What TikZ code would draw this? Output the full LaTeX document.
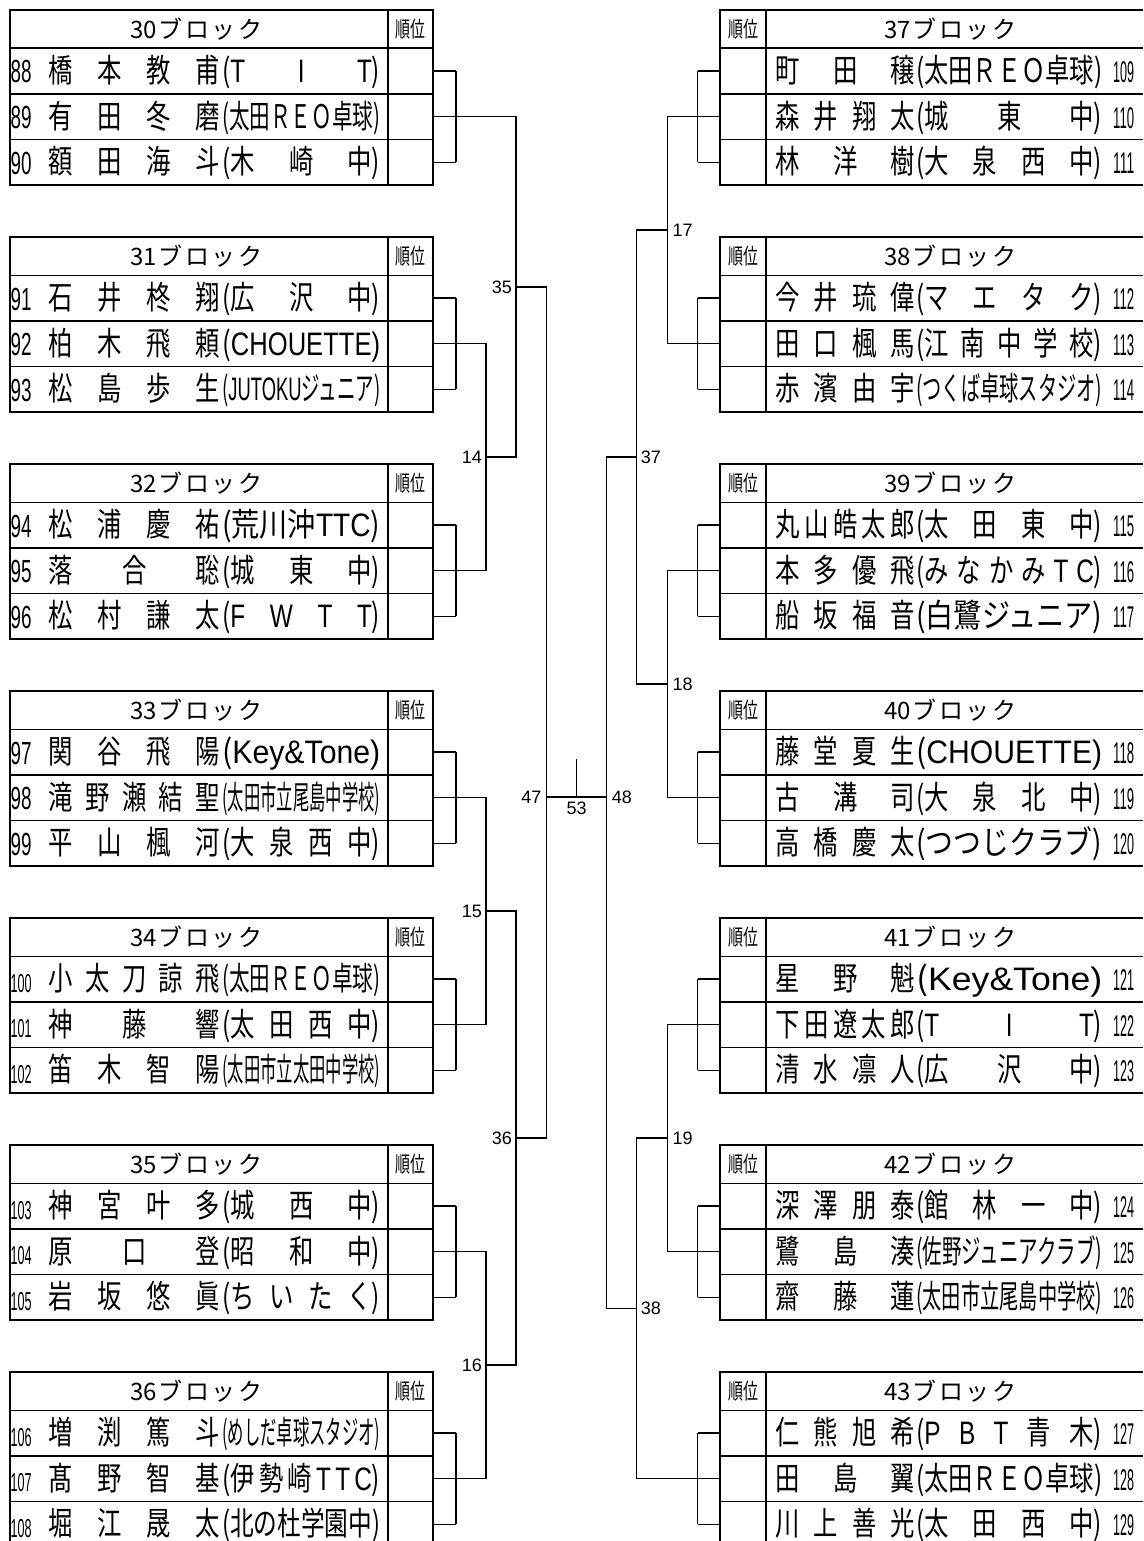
\documentclass[tikz,border=0pt]{standalone}
\usepackage{fontspec}
\usepackage{graphicx}
\setmainfont{Noto Sans CJK JP}
\newfontfamily\lat{Liberation Sans}
\makeatletter
\newcommand\cx{0.75}
\newcommand\cc[1]{\scalebox{\cx}[1]{#1}}
\def\spr@endmark{\spr@end}
\newcommand\spreadlist[1]{\spr@first#1\spr@end}
\def\spr@first#1{\cc{#1}\spr@next}
\def\spr@next#1{\def\spr@tmp{#1}\ifx\spr@tmp\spr@endmark\else\hfill\cc{#1}\expandafter\spr@next\fi}
\makeatother
\def\namew{172pt}\def\clubw{158pt}
\newcommand\nm[1]{\makebox[\namew][s]{\spreadlist{#1}}}
\newcommand\cS[1]{\makebox[\clubw][s]{\cc{(}\spreadlist{#1}\cc{)}}}
\newcommand\cQ[1]{\resizebox{\clubw}{\height}{(#1)}}
\tikzset{
 tbl/.style={line width=1.6pt},
 ln/.style={line width=1.5pt},
 txt/.style={inner sep=0pt, font=\fontsize{32.5}{32.5}\selectfont},
 hdr/.style={inner sep=0pt, font=\fontsize{24}{24}\selectfont},
 rk/.style={inner sep=0pt, font=\fontsize{22}{22}\selectfont},
 lbl/.style={inner sep=0pt, font=\lat\fontsize{18}{18}\selectfont},
}
\newcommand\lblock[2]{%
  \draw[tbl] (10,#1) rectangle (433,#1+175);
  \draw[tbl] (388,#1) -- (388,#1+175)
     (10,#1+38.3) -- (433,#1+38.3)
     (10,#1+84) -- (433,#1+84)
     (10,#1+129.5) -- (433,#1+129.5);
  \node[hdr] (h#2) at (196,#1+19.2) {\makebox[132pt][s]{#2\hfill ブ\hfill ロ\hfill ッ\hfill ク}};
  \node[rk] (r#2) at (410.5,#1+19.5) {\scalebox{0.68}[1]{順位}};
  \foreach \i in {0,1,2}{
    \coordinate (s#2-\i) at (433,#1+61+45.65*\i);
    \coordinate (t#2-\i) at (456,#1+61+45.65*\i);
    \draw[ln] (s#2-\i) -- (t#2-\i);
  }
  \draw[ln] (t#2-0) -- (t#2-2);
}
\newcommand\rblock[2]{%
  \draw[tbl] (1143,#1) -- (720,#1) -- (720,#1+175) -- (1143,#1+175);
  \draw[tbl] (766,#1) -- (766,#1+175)
     (720,#1+38.3) -- (1143,#1+38.3)
     (720,#1+84) -- (1143,#1+84)
     (720,#1+129.5) -- (1143,#1+129.5);
  \node[hdr] (h#2) at (950,#1+19.2) {\makebox[132pt][s]{#2\hfill ブ\hfill ロ\hfill ッ\hfill ク}};
  \node[rk] (r#2) at (743,#1+19.5) {\scalebox{0.68}[1]{順位}};
  \foreach \i in {0,1,2}{
    \coordinate (s#2-\i) at (720,#1+61+45.65*\i);
    \coordinate (t#2-\i) at (697.5,#1+61+45.65*\i);
    \draw[ln] (s#2-\i) -- (t#2-\i);
  }
  \draw[ln] (t#2-0) -- (t#2-2);
}
\newcommand\lrow[5]{%
  \pgfmathsetmacro\myrc{#1+61+45.65*#2}
  \ifnum#3>99\relax
    \node[anchor=base west,inner sep=0pt] (n#3) at (10.5,\myrc+13) {\resizebox{21pt}{\height}{\lat\fontsize{26}{26}\selectfont #3}};
  \else
    \node[anchor=base west,inner sep=0pt] (n#3) at (10.5,\myrc+12) {\resizebox{21pt}{\height}{\lat\fontsize{32}{32}\selectfont #3}};
  \fi
  \node[txt,anchor=base west] (nm#3) at (48,\myrc+11.5) {\nm{#4}};
  \node[txt,anchor=base west] (cl#3) at (222,\myrc+11.5) {#5};
}
\newcommand\rrow[5]{%
  \pgfmathsetmacro\myrc{#1+61+45.65*#2}
  \node[txt,anchor=base west] (nm#3) at (775,\myrc+11.5) {\nm{#4}};
  \node[txt,anchor=base west] (cl#3) at (916,\myrc+11.5) {#5};
  \node[anchor=base west,inner sep=0pt] (n#3) at (1113,\myrc+11.5) {\resizebox{21pt}{\height}{\lat\fontsize{30}{30}\selectfont #3}};
}
\begin{document}
\begin{tikzpicture}[x=1pt,y=-1pt]
\clip (0,0) rectangle (1143,1541);
\fill[white] (0,0) rectangle (1143,1541);
% ---------- left side ----------
\def\namew{172pt}\def\clubw{158pt}
\lblock{10}{30}
\lrow{10}{0}{88}{橋本教甫}{\cS{{\lat T}{\lat I}{\lat T}}}
\lrow{10}{1}{89}{有田冬磨}{\cQ{太田ＲＥＯ卓球}}
\lrow{10}{2}{90}{額田海斗}{\cS{木崎中}}
\lblock{237}{31}
\lrow{237}{0}{91}{石井柊翔}{\cS{広沢中}}
\lrow{237}{1}{92}{柏木飛頼}{\cQ{\lat CHOUETTE}}
\lrow{237}{2}{93}{松島歩生}{\cQ{{\lat JUTOKU}ジュニア}}
\lblock{464}{32}
\lrow{464}{0}{94}{松浦慶祐}{\cQ{荒川沖{\lat TTC}}}
\lrow{464}{1}{95}{落合聡}{\cS{城東中}}
\lrow{464}{2}{96}{松村謙太}{\cS{{\lat F}{\lat W}{\lat T}{\lat T}}}
\lblock{691}{33}
\lrow{691}{0}{97}{関谷飛陽}{\cQ{\lat Key\&Tone}}
\lrow{691}{1}{98}{滝野瀬結聖}{\cQ{太田市立尾島中学校}}
\lrow{691}{2}{99}{平山楓河}{\cS{大泉西中}}
\lblock{918}{34}
\lrow{918}{0}{100}{小太刀諒飛}{\cQ{太田ＲＥＯ卓球}}
\lrow{918}{1}{101}{神藤響}{\cS{太田西中}}
\lrow{918}{2}{102}{笛木智陽}{\cQ{太田市立太田中学校}}
\lblock{1145}{35}
\lrow{1145}{0}{103}{神宮叶多}{\cS{城西中}}
\lrow{1145}{1}{104}{原口登}{\cS{昭和中}}
\lrow{1145}{2}{105}{岩坂悠眞}{\cS{ちいたく}}
\lblock{1372}{36}
\lrow{1372}{0}{106}{増渕篤斗}{\cQ{めしだ卓球スタジオ}}
\lrow{1372}{1}{107}{髙野智基}{\cS{伊勢崎{\lat T}{\lat T}{\lat C}}}
\lrow{1372}{2}{108}{堀江晟太}{\cQ{北の杜学園中}}
% ---------- right side ----------
\def\namew{140pt}\def\clubw{186pt}
\rblock{10}{37}
\rrow{10}{0}{109}{町田穣}{\cQ{太田ＲＥＯ卓球}}
\rrow{10}{1}{110}{森井翔太}{\cS{城東中}}
\rrow{10}{2}{111}{林洋樹}{\cS{大泉西中}}
\rblock{237}{38}
\rrow{237}{0}{112}{今井琉偉}{\cS{マエタク}}
\rrow{237}{1}{113}{田口楓馬}{\cS{江南中学校}}
\rrow{237}{2}{114}{赤濱由宇}{\cQ{つくば卓球スタジオ}}
\rblock{464}{39}
\rrow{464}{0}{115}{丸山皓太郎}{\cS{太田東中}}
\rrow{464}{1}{116}{本多優飛}{\cS{みなかみ{\lat T}{\lat C}}}
\rrow{464}{2}{117}{船坂福音}{\cQ{白鷺ジュニア}}
\rblock{691}{40}
\rrow{691}{0}{118}{藤堂夏生}{\cQ{\lat CHOUETTE}}
\rrow{691}{1}{119}{古溝司}{\cS{大泉北中}}
\rrow{691}{2}{120}{高橋慶太}{\cQ{つつじクラブ}}
\rblock{918}{41}
\rrow{918}{0}{121}{星野魁}{\cQ{\lat Key\&Tone}}
\rrow{918}{1}{122}{下田遼太郎}{\cS{{\lat T}{\lat I}{\lat T}}}
\rrow{918}{2}{123}{清水凛人}{\cS{広沢中}}
\rblock{1145}{42}
\rrow{1145}{0}{124}{深澤朋泰}{\cS{館林一中}}
\rrow{1145}{1}{125}{鷺島湊}{\cQ{佐野ジュニアクラブ}}
\rrow{1145}{2}{126}{齋藤蓮}{\cQ{太田市立尾島中学校}}
\rblock{1372}{43}
\rrow{1372}{0}{127}{仁熊旭希}{\cS{{\lat P}{\lat B}{\lat T}青木}}
\rrow{1372}{1}{128}{田島翼}{\cQ{太田ＲＥＯ卓球}}
\rrow{1372}{2}{129}{川上善光}{\cS{太田西中}}
% ---------- bracket junctions ----------
\coordinate (m14) at (486,457.15);
\coordinate (m15) at (486,911.15);
\coordinate (m16) at (486,1365.15);
\coordinate (m35) at (516,286.9);
\coordinate (m36) at (516,1138.15);
\coordinate (m47) at (546.5,797);
\coordinate (m17) at (667.3,230.15);
\coordinate (m18) at (667.3,684.15);
\coordinate (m19) at (667.3,1138.15);
\coordinate (m37) at (636.7,457.15);
\coordinate (m38) at (636.7,1308.4);
\coordinate (m48) at (606.7,797);
\coordinate (c53) at (576.6,797);
\coordinate (c53t) at (576.6,759);
\draw[ln] (t31-1) -| (m14) |- (t32-1);
\draw[ln] (t33-1) -| (m15) |- (t34-1);
\draw[ln] (t35-1) -| (m16) |- (t36-1);
\draw[ln] (t30-1) -| (m35) |- (m14);
\draw[ln] (m15) -| (m36) |- (m16);
\draw[ln] (m35) -| (m47) |- (m36);
\draw[ln] (m47) -- (m48);
\draw[ln] (c53) -- (c53t);
\draw[ln] (t37-1) -| (m17) |- (t38-1);
\draw[ln] (t39-1) -| (m18) |- (t40-1);
\draw[ln] (t41-1) -| (m19) |- (t42-1);
\draw[ln] (m17) -| (m37) |- (m18);
\draw[ln] (m19) -| (m38) |- (t43-1);
\draw[ln] (m37) -| (m48) |- (m38);
% ---------- labels ----------
\node[lbl,anchor=east] (l14) at ([xshift=-4pt]m14) {14};
\node[lbl,anchor=east] (l15) at ([xshift=-4pt]m15) {15};
\node[lbl,anchor=east] (l16) at ([xshift=-4pt]m16) {16};
\node[lbl,anchor=east] (l35) at ([xshift=-4pt]m35) {35};
\node[lbl,anchor=east] (l36) at ([xshift=-4pt]m36) {36};
\node[lbl,anchor=east] (l47) at ([xshift=-5pt]m47) {47};
\node[lbl,anchor=west] (l17) at ([xshift=5pt]m17) {17};
\node[lbl,anchor=west] (l18) at ([xshift=5pt]m18) {18};
\node[lbl,anchor=west] (l19) at ([xshift=5pt]m19) {19};
\node[lbl,anchor=west] (l37) at ([xshift=4pt]m37) {37};
\node[lbl,anchor=west] (l38) at ([xshift=4pt]m38) {38};
\node[lbl,anchor=west] (l48) at ([xshift=5pt]m48) {48};
\node[lbl,anchor=north] (l53) at ([yshift=-5pt]c53) {53};
\end{tikzpicture}
\end{document}
